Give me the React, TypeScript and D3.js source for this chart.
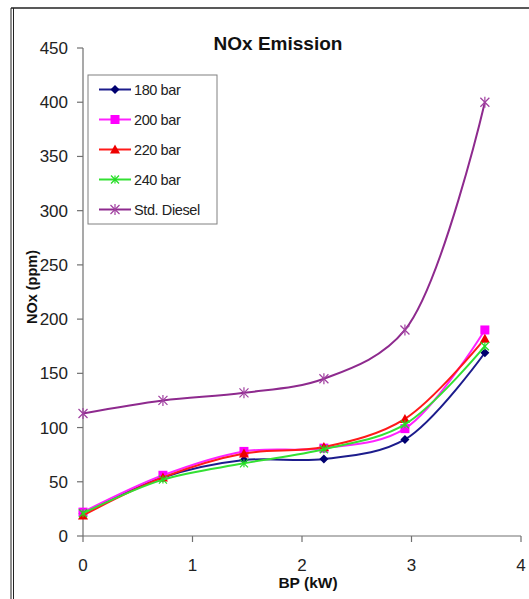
import React from "react";
import * as d3 from "d3";

const bpValues = [0, 0.73, 1.47, 2.2, 2.94, 3.67];
const seriesNames = ["180 bar", "200 bar", "220 bar", "240 bar", "Std. Diesel"];
const bar180 = [21, 54, 70, 71, 89, 169];
const bar200 = [22, 56, 78, 81, 99, 190];
const bar220 = [19, 54, 76, 82, 108, 182];
const bar240 = [21, 52, 67, 80, 103, 175];
const stdDiesel = [113, 125, 132, 145, 190, 400];
const yTicks = [0, 50, 100, 150, 200, 250, 300, 350, 400, 450];
const xTicks = [0, 1, 2, 3, 4];

const seriesValues = [bar180, bar200, bar220, bar240, stdDiesel];
const lineColors = ["#1c1c8c", "#ff22ff", "#ff1a1a", "#33e033", "#8e2a8e"];
const markerColors = ["#000070", "#ff00ff", "#ee0000", "#22dd22", "#a040a0"];
const markerTypes = ["diamond", "square", "triangle", "xstar", "asterisk"];

function Marker({ type, x, y, color }: { type: string; x: number; y: number; color: string }) {
  if (type === "diamond") {
    const s = 4.5;
    return <path d={`M${x},${y - s}L${x + s},${y}L${x},${y + s}L${x - s},${y}Z`} fill={color} />;
  }
  if (type === "square") {
    return <rect x={x - 4.5} y={y - 4.5} width={9} height={9} fill={color} />;
  }
  if (type === "triangle") {
    const s = 5;
    return <path d={`M${x},${y - s}L${x + s},${y + s * 0.8}L${x - s},${y + s * 0.8}Z`} fill={color} />;
  }
  if (type === "xstar") {
    const s = 4;
    return (
      <g stroke={color} strokeWidth={1.2}>
        <line x1={x - s} y1={y - s} x2={x + s} y2={y + s} />
        <line x1={x - s} y1={y + s} x2={x + s} y2={y - s} />
        <line x1={x} y1={y - s} x2={x} y2={y + s} />
      </g>
    );
  }
  const s = 4.5;
  return (
    <g stroke={color} strokeWidth={1.2}>
      <line x1={x - s} y1={y - s} x2={x + s} y2={y + s} />
      <line x1={x - s} y1={y + s} x2={x + s} y2={y - s} />
      <line x1={x} y1={y - s - 1} x2={x} y2={y + s + 1} />
    </g>
  );
}

export default function App() {
  const W = 529;
  const H = 599;
  const x = d3.scaleLinear().domain([0, 4]).range([83, 521]);
  const y = d3.scaleLinear().domain([0, 450]).range([536, 48]);
  const line = d3
    .line<number>()
    .x((_, i) => x(bpValues[i]))
    .y((d) => y(d))
    .curve(d3.curveCatmullRom.alpha(0.5));
  const font = "Liberation Sans, Arial, sans-serif";
  const axisColor = "#707070";
  const legendX = 88;
  const legendY = 75;
  return (
    <svg
      width={W}
      height={H}
      style={{ position: "absolute", left: 0, top: 0, background: "#fff" }}
      fontFamily={font}
    >
      <rect x={0} y={0} width={W} height={H} fill="#fff" />
      {/* frame */}
      <line x1={11} y1={8} x2={11} y2={H} stroke="#222" strokeWidth={1} />
      <line x1={13.5} y1={8} x2={13.5} y2={H} stroke="#222" strokeWidth={1} />
      <line x1={11} y1={8} x2={W} y2={8} stroke="#222" strokeWidth={1.5} />

      <text x={278} y={50} textAnchor="middle" fontSize={19} fontWeight="bold" fill="#111">
        NOx Emission
      </text>

      {/* axes */}
      <line x1={83} y1={y(450)} x2={83} y2={536} stroke={axisColor} strokeWidth={1.2} />
      <line x1={83} y1={536} x2={521} y2={536} stroke={axisColor} strokeWidth={1.2} />
      {yTicks.map((t) => (
        <g key={"y" + t}>
          <line x1={77} x2={83} y1={y(t)} y2={y(t)} stroke={axisColor} strokeWidth={1.2} />
          <text x={68} y={y(t) + 6} textAnchor="end" fontSize={17} fill="#222">
            {t}
          </text>
        </g>
      ))}
      {xTicks.map((t) => (
        <g key={"x" + t}>
          <line x1={x(t)} x2={x(t)} y1={536} y2={542} stroke={axisColor} strokeWidth={1.2} />
          <text x={x(t)} y={571} textAnchor="middle" fontSize={17} fill="#222">
            {t}
          </text>
        </g>
      ))}
      <text x={308} y={588} textAnchor="middle" fontSize={15.5} fontWeight="bold" fill="#111">
        BP (kW)
      </text>
      <text
        transform={`translate(37,287) rotate(-90)`}
        textAnchor="middle"
        fontSize={14.5}
        fontWeight="bold"
        fill="#111"
      >
        NOx (ppm)
      </text>

      {/* series */}
      {seriesValues.map((vals, si) => (
        <g key={"s" + si}>
          <path d={line(vals) || ""} fill="none" stroke={lineColors[si]} strokeWidth={2} />
          {vals.map((v, i) => (
            <Marker key={i} type={markerTypes[si]} x={x(bpValues[i])} y={y(v)} color={markerColors[si]} />
          ))}
        </g>
      ))}

      {/* legend */}
      <rect x={legendX} y={legendY} width={129} height={149} fill="#fff" stroke="#808080" strokeWidth={1} />
      {seriesNames.map((name, i) => {
        const cy = legendY + 14.5 + i * 30;
        return (
          <g key={name}>
            <line x1={99} x2={131} y1={cy} y2={cy} stroke={lineColors[i]} strokeWidth={2} />
            <Marker type={markerTypes[i]} x={115} y={cy} color={markerColors[i]} />
            <text x={134} y={cy + 5.5} fontSize={14.5} fill="#222" letterSpacing={-0.4}>
              {name}
            </text>
          </g>
        );
      })}
    </svg>
  );
}
